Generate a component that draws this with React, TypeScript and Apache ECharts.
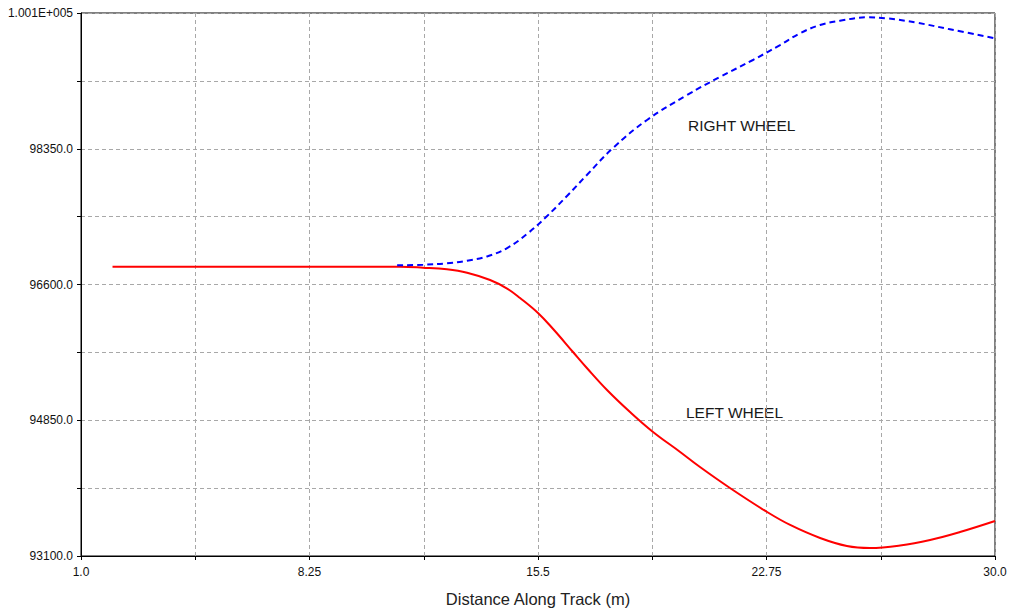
import React, { useEffect, useRef } from "react";
import * as echarts from "echarts";

const X_MIN = 1.0;
const X_MAX = 30.0;
const X_STEP = 3.625;
const Y_MIN = 93100;
const Y_MAX = 100100;
const Y_STEP = 875;

const xAxisTitle = "Distance Along Track (m)";
const rightLabel = "RIGHT WHEEL";
const leftLabel = "LEFT WHEEL";

// Left wheel (red, solid)
const leftX = [2.0, 5.0, 8.0, 10.0, 11.12, 11.85, 12.61, 13.25, 13.98, 14.52, 14.93, 15.5, 15.98, 16.61, 17.05, 17.69, 18.42, 19.15, 20.01, 20.64, 21.59, 22.77, 23.5, 24.45, 25.3, 26.03, 26.99, 27.94, 28.89, 30.0];
const leftY = [96829, 96829, 96829, 96829, 96829, 96817, 96796, 96752, 96658, 96548, 96426, 96233, 96026, 95730, 95524, 95240, 94956, 94699, 94441, 94247, 93977, 93667, 93500, 93332, 93229, 93203, 93235, 93306, 93409, 93551];

// Right wheel (blue, dashed)
const rightX = [11.03, 11.85, 12.61, 13.25, 13.88, 14.52, 15.15, 15.79, 16.42, 17.05, 17.88, 18.96, 20.23, 21.27, 22.32, 23.18, 23.81, 24.45, 25.08, 25.94, 26.57, 27.52, 28.57, 30.0];
const rightY = [96847, 96855, 96873, 96907, 96961, 97070, 97251, 97483, 97741, 98012, 98360, 98721, 99043, 99275, 99494, 99687, 99838, 99945, 100000, 100044, 100031, 99975, 99890, 99774];

function fmtX(v: number) {
  const r = Math.round(v * 1000) / 1000;
  return Number.isInteger(r) ? r.toFixed(1) : String(r);
}
function fmtY(v: number) {
  const r = Math.round(v);
  if (r >= 100000) return (r / 100000).toFixed(3) + "E+005";
  return r.toFixed(1);
}

export default function App() {
  const ref = useRef<HTMLDivElement>(null);
  useEffect(() => {
    if (!ref.current) return;
    const chart = echarts.init(ref.current, undefined, { renderer: "svg" });
    const leftData = leftX.map((x, i) => [x - X_MIN, leftY[i] - Y_MIN]);
    const rightData = rightX.map((x, i) => [x - X_MIN, rightY[i] - Y_MIN]);
    const font = "Liberation Sans, Arial, sans-serif";
    chart.setOption({
      animation: false,
      backgroundColor: "#fff",
      grid: {
        left: 81,
        right: 15,
        top: 13,
        bottom: 58,
        show: true,
        borderColor: "#000",
        borderWidth: 1,
        backgroundColor: "transparent",
      },
      xAxis: {
        type: "value",
        min: 0,
        max: X_MAX - X_MIN,
        interval: X_STEP,
        name: xAxisTitle,
        nameLocation: "middle",
        nameGap: 34,
        nameTextStyle: { fontFamily: font, fontSize: 16.5, color: "#222" },
        axisLine: { show: true, lineStyle: { color: "#000", width: 1 } },
        axisTick: { show: true, inside: false, length: 4, lineStyle: { color: "#000" } },
        axisLabel: {
          margin: 10,
          fontFamily: font,
          fontSize: 12,
          color: "#111",
          showMinLabel: true,
          showMaxLabel: true,
          formatter: (v: number) => {
            const idx = Math.round(v / X_STEP);
            return idx % 2 === 0 ? fmtX(v + X_MIN) : "";
          },
        },
        splitLine: { show: true, lineStyle: { color: "#a8a8a8", type: [4, 3], width: 1 } },
      },
      yAxis: {
        type: "value",
        min: 0,
        max: Y_MAX - Y_MIN,
        interval: Y_STEP,
        axisLine: { show: true, lineStyle: { color: "#000", width: 1 } },
        axisTick: { show: true, inside: false, length: 4, lineStyle: { color: "#000" } },
        axisLabel: {
          margin: 8,
          fontFamily: font,
          fontSize: 12,
          color: "#111",
          showMinLabel: true,
          showMaxLabel: true,
          formatter: (v: number) => {
            const idx = Math.round(v / Y_STEP);
            return idx % 2 === 0 ? fmtY(v + Y_MIN) : "";
          },
        },
        splitLine: { show: true, lineStyle: { color: "#a8a8a8", type: [4, 3], width: 1 } },
      },
      series: [
        {
          name: leftLabel,
          type: "line",
          data: leftData,
          smooth: 0.4,
          showSymbol: false,
          lineStyle: { color: "#ff0000", width: 2 },
          z: 3,
        },
        {
          name: rightLabel,
          type: "line",
          data: rightData,
          smooth: 0.4,
          showSymbol: false,
          lineStyle: { color: "#0000ff", width: 2, type: [6, 4] },
          z: 4,
        },
      ],
      graphic: [
        {
          type: "text",
          x: 688,
          y: 125,
          style: { text: rightLabel, fontFamily: font, fontSize: 15.5, fill: "#1a1a1a", verticalAlign: "middle" },
        },
        {
          type: "text",
          x: 686,
          y: 412,
          style: { text: leftLabel, fontFamily: font, fontSize: 15.5, fill: "#1a1a1a", verticalAlign: "middle" },
        },
      ],
    });
    return () => chart.dispose();
  }, []);
  return (
    <div
      ref={ref}
      style={{ position: "fixed", left: 0, top: 0, width: 1010, height: 614, background: "#fff" }}
    />
  );
}
